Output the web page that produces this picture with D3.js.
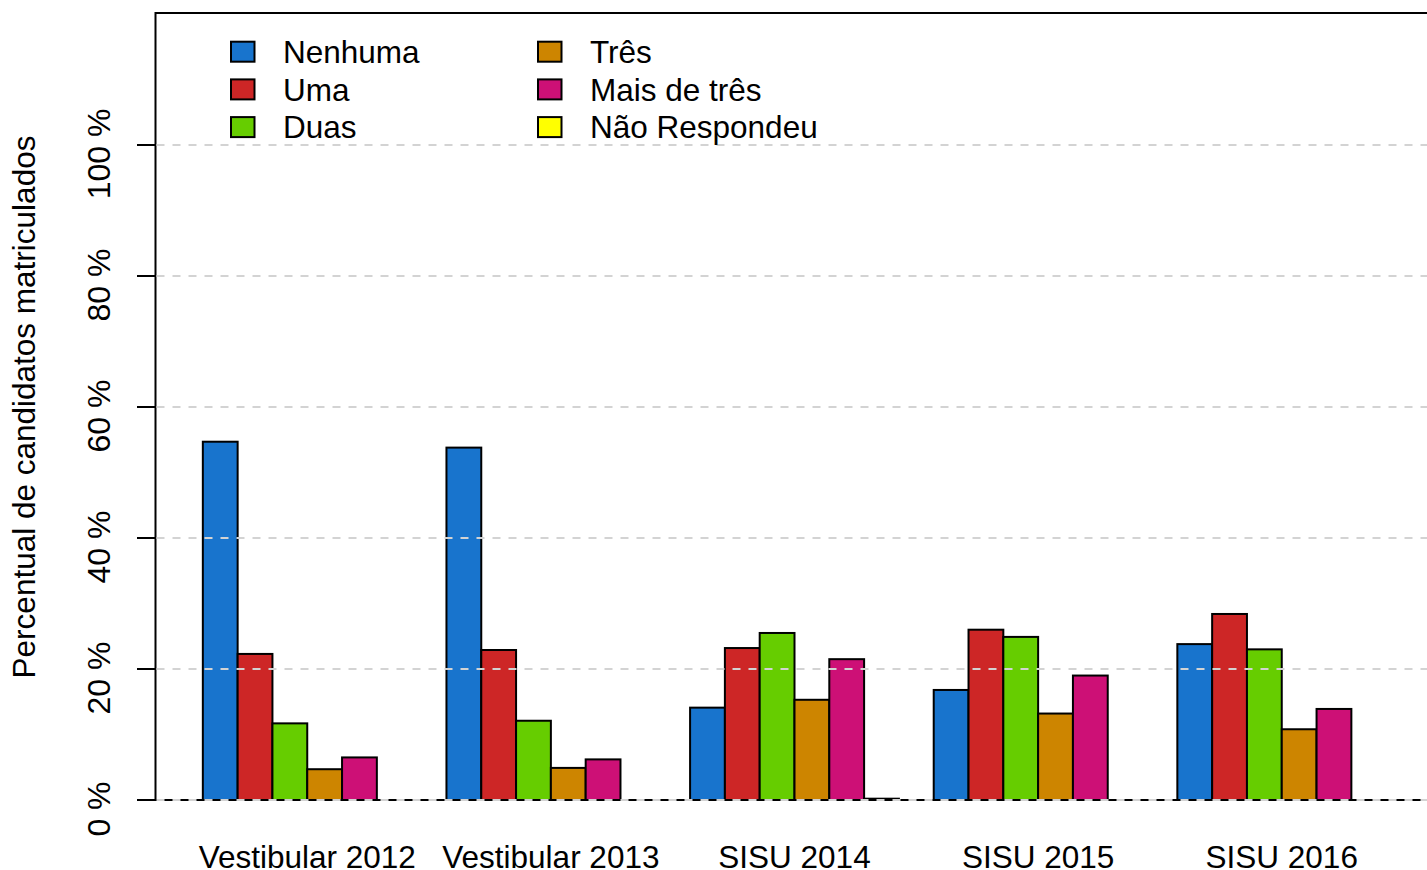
<!DOCTYPE html>
<html>
<head>
<meta charset="utf-8">
<script src="https://cdn.jsdelivr.net/npm/d3@7"></script>
<style>
  body { margin: 0; background: #fff; }
  svg { display: block; font-family: "Liberation Sans", Arial, sans-serif; }
</style>
</head>
<body>
<svg></svg>
<script>
// Data
const groups = ["Vestibular 2012", "Vestibular 2013", "SISU 2014", "SISU 2015", "SISU 2016"];
const series = ["Nenhuma", "Uma", "Duas", "Três", "Mais de três", "Não Respondeu"];
const colors = ["#1874CD", "#CD2626", "#66CD00", "#CD8500", "#CD1076", "#FFFF00"];
const nenhuma = [54.7, 53.8, 14.1, 16.8, 23.8];
const uma = [22.3, 22.9, 23.2, 26.0, 28.4];
const duas = [11.7, 12.1, 25.5, 24.9, 23.0];
const tres = [4.7, 4.9, 15.3, 13.2, 10.8];
const maisDeTres = [6.5, 6.2, 21.5, 19.0, 13.9];
const naoRespondeu = [0, 0, 0.2, 0, 0];
const yTicks = [0, 20, 40, 60, 80, 100];

const values = [nenhuma, uma, duas, tres, maisDeTres, naoRespondeu];

const width = 1427;
const height = 870;
const fontSize = 31.5;

const svg = d3.select("svg")
    .attr("width", width)
    .attr("height", height);

// x in "bar units" like R barplot(beside=TRUE): each group = 1 space + 6 bars
const nBars = series.length;
const unitsPerGroup = nBars + 1;
const xMax = groups.length * unitsPerGroup;
const ext = (xMax - 1) * 0.04;
const xScale = d3.scaleLinear()
    .domain([1 - ext, xMax + ext])
    .range([155.5, 1433.5]);

const yScale = d3.scaleLinear()
    .domain([0, 120])
    .range([800, 14]);

// bars
const bars = [];
groups.forEach((g, gi) => {
  series.forEach((s, si) => {
    bars.push({ group: g, series: s, color: colors[si], value: values[si][gi],
                x0: 1 + gi * unitsPerGroup + si });
  });
});

svg.append("g")
  .selectAll("rect")
  .data(bars)
  .enter()
  .append("rect")
  .attr("x", d => xScale(d.x0))
  .attr("y", d => yScale(d.value))
  .attr("width", d => xScale(d.x0 + 1) - xScale(d.x0))
  .attr("height", d => yScale(0) - yScale(d.value))
  .attr("fill", d => d.color)
  .attr("stroke", "#000")
  .attr("stroke-width", 2);

// plot box
svg.append("rect")
  .attr("x", xScale.range()[0])
  .attr("y", yScale(120) - 1)
  .attr("width", xScale.range()[1] - xScale.range()[0])
  .attr("height", yScale(0) - yScale(120) + 1)
  .attr("fill", "none")
  .attr("stroke", "#000")
  .attr("stroke-width", 2);

// grid lines (drawn over bars)
svg.append("g")
  .selectAll("line")
  .data(yTicks)
  .enter()
  .append("line")
  .attr("x1", xScale.range()[0] + 1)
  .attr("x2", width)
  .attr("y1", d => yScale(d))
  .attr("y2", d => yScale(d))
  .attr("stroke", "#D3D3D3")
  .attr("stroke-width", 2)
  .attr("stroke-dasharray", "8,8");

// y axis ticks + labels
const yAxis = svg.append("g");
yAxis.selectAll("line")
  .data(yTicks)
  .enter()
  .append("line")
  .attr("x1", 137)
  .attr("x2", xScale.range()[0])
  .attr("y1", d => yScale(d))
  .attr("y2", d => yScale(d))
  .attr("stroke", "#000")
  .attr("stroke-width", 2);

yAxis.selectAll("text")
  .data(yTicks)
  .enter()
  .append("text")
  .attr("transform", d => `translate(110, ${yScale(d) + 9}) rotate(-90)`)
  .attr("text-anchor", "middle")
  .attr("font-size", 32)
  .text(d => d + " %");

// y title
svg.append("text")
  .attr("transform", `translate(35, ${(yScale(0) + yScale(120)) / 2}) rotate(-90)`)
  .attr("text-anchor", "middle")
  .attr("font-size", fontSize)
  .text("Percentual de candidatos matriculados");

// x labels
svg.append("g")
  .selectAll("text")
  .data(groups)
  .enter()
  .append("text")
  .attr("x", (d, i) => xScale(1 + i * unitsPerGroup + nBars / 2))
  .attr("y", 868)
  .attr("text-anchor", "middle")
  .attr("font-size", fontSize)
  .text(d => d);

// legend
const legendCols = [231, 538];
const legendRows = [51.7, 89.4, 127.1];
const legend = svg.append("g")
  .selectAll("g")
  .data(series)
  .enter()
  .append("g")
  .attr("transform", (d, i) => `translate(${legendCols[Math.floor(i / 3)]}, ${legendRows[i % 3]})`);

legend.append("rect")
  .attr("x", 0)
  .attr("y", -10)
  .attr("width", 23.5)
  .attr("height", 20)
  .attr("fill", (d, i) => colors[i])
  .attr("stroke", "#000")
  .attr("stroke-width", 2);

legend.append("text")
  .attr("x", 52)
  .attr("y", 11.2)
  .attr("font-size", fontSize)
  .text(d => d);
</script>
</body>
</html>
